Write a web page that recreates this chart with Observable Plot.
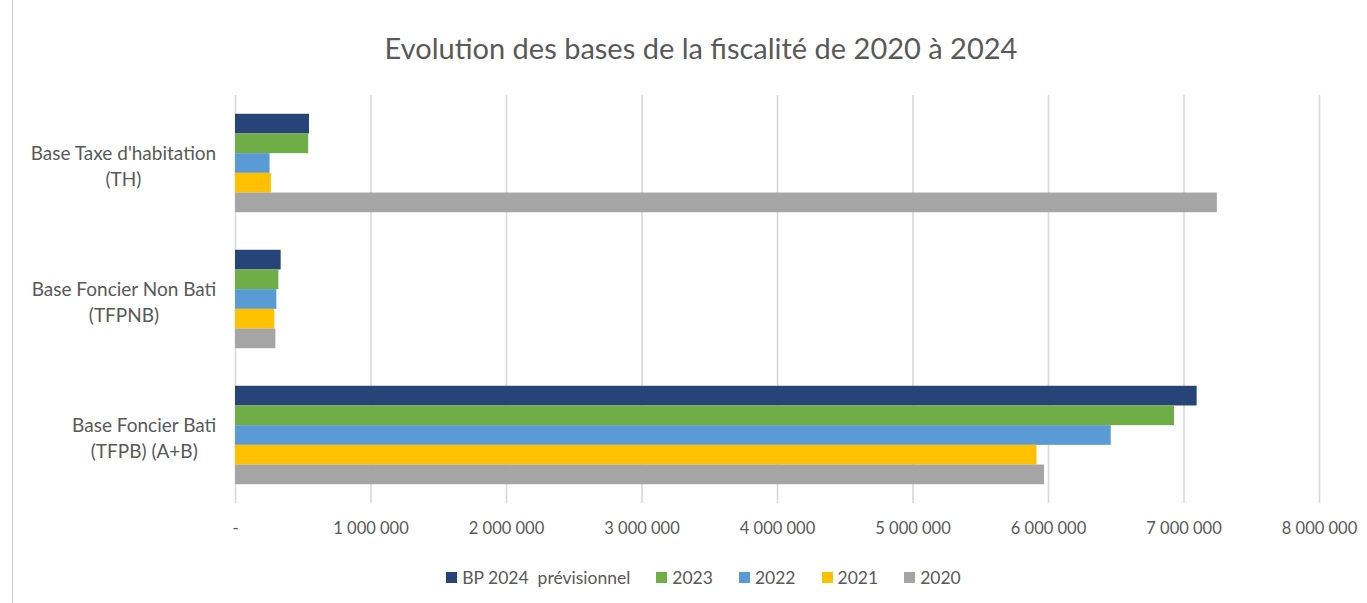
<!DOCTYPE html>
<html>
<head>
<meta charset="utf-8">
<script src="https://cdn.jsdelivr.net/npm/d3@7"></script>
<script src="https://cdn.jsdelivr.net/npm/@observablehq/plot@0.6"></script>
<style>
  html, body { margin: 0; padding: 0; background: #fff; }
  body { width: 1367px; height: 603px; position: relative; overflow: hidden; font-family: Lato, "Open Sans", sans-serif; }
  #frameLine { position: absolute; left: 12px; top: 0; width: 1px; height: 603px; background: #d0d0d0; }
  #title { height: 50px; padding-top: 30px; line-height: 36px; box-sizing: content-box; text-align: center; padding-left: 35px; font-size: 29px; color: #595959; }
  #legend { margin-top: 18px; }
  .lg-swatches { justify-content: center !important; padding-left: 66px; min-height: 22px !important; margin: 0 !important; }
  .lg-swatch { margin-right: 26px !important; font-size: 17.5px; color: #595959; white-space: pre; font-family: Lato, sans-serif; }
  .lg-swatch svg { margin-right: 5px !important; }
</style>
</head>
<body>
<div id="frameLine"></div>
<div id="title">Evolution des bases de la fiscalité de 2020 à 2024</div>
<div id="chart"></div>
<div id="legend"></div>
<script>
const categories = ["Base Taxe d'habitation\n(TH)", "Base Foncier Non Bati\n(TFPNB)", "Base Foncier Bati\n(TFPB) (A+B)"];
const series = ["BP 2024  prévisionnel", "2023", "2022", "2021", "2020"];
const seriesColors = ["#264478", "#70AD47", "#5B9BD5", "#FFC000", "#A5A5A5"];
const bp2024 = [546000, 337000, 7097000];
const v2023 = [540000, 320000, 6930000];
const v2022 = [255000, 305000, 6463000];
const v2021 = [265000, 290000, 5915000];
const v2020 = [7246000, 298000, 5971000];
const xTicks = [0, 1000000, 2000000, 3000000, 4000000, 5000000, 6000000, 7000000, 8000000];
const xTickLabels = ["-", "1 000 000", "2 000 000", "3 000 000", "4 000 000", "5 000 000", "6 000 000", "7 000 000", "8 000 000"];

const seriesValues = [bp2024, v2023, v2022, v2021, v2020];
const data = [];
series.forEach((s, si) => categories.forEach((c, ci) => data.push({category: c, series: s, value: seriesValues[si][ci]})));

const labelSize = 19;
const ctx = document.createElement("canvas").getContext("2d");
ctx.font = `${labelSize}px Lato`;
const labelMarks = categories.map(c => {
  const w = Math.max(...c.split("\n").map(l => ctx.measureText(l).width));
  return Plot.text([c], {
    fy: d => d, frameAnchor: "left", text: d => d, textAnchor: "middle",
    dx: -(19 + w / 2), dy: 1, fontSize: labelSize, lineHeight: 1.4, fill: "#595959"
  });
});

const chart = Plot.plot({
  width: 1367,
  height: 468,
  marginLeft: 235,
  marginRight: 48,
  marginTop: 15,
  marginBottom: 45,
  style: {fontFamily: "Lato, sans-serif", color: "#595959", background: "#fff"},
  x: {domain: [0, 8000000], axis: null},
  fy: {domain: categories, padding: 0, axis: null},
  y: {domain: series, paddingInner: 0, paddingOuter: 0.953, axis: null, round: false},
  color: {domain: series, range: seriesColors},
  marks: [
    Plot.ruleX(xTicks, {stroke: "#d9d9d9", strokeWidth: 1.6}),
    Plot.barX(data, {x: "value", y: "series", fy: "category", fill: "series"}),
    Plot.axisX({ticks: xTicks, tickFormat: d => xTickLabels[xTicks.indexOf(d)], tickSize: 0, tickPadding: 19, fontSize: 16.5, fill: "#595959", label: null}),
    ...labelMarks
  ]
});
document.getElementById("chart").appendChild(chart);

const legend = Plot.legend({
  color: {domain: series, range: seriesColors, type: "ordinal"},
  legend: "swatches",
  swatchSize: 11,
  className: "lg"
});
document.getElementById("legend").appendChild(legend);
</script>
</body>
</html>
